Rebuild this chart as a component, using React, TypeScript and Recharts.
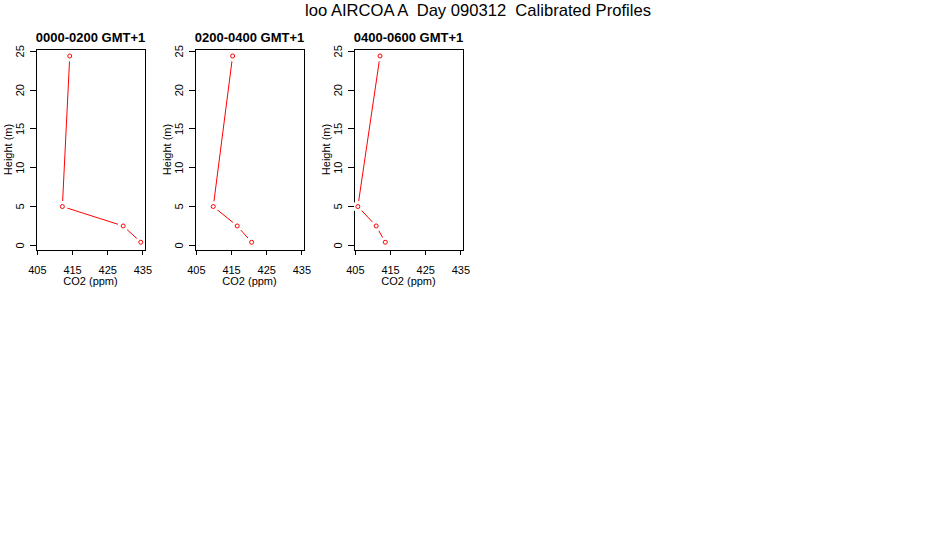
import { LineChart, Line, XAxis, YAxis, ReferenceArea } from "recharts";

const heights = [24.4, 5.0, 2.5, 0.4];
const co2Night1 = [414.2, 412.1, 429.4, 434.4];
const co2Night2 = [415.3, 409.8, 416.6, 420.7];
const co2Night3 = [412.0, 405.7, 410.9, 413.5];
const panelTitles = ["0000-0200 GMT+1", "0200-0400 GMT+1", "0400-0600 GMT+1"];
const xTicks = [405, 415, 425, 435];
const yTicks = [0, 5, 10, 15, 20, 25];

const FONT = "'Liberation Sans', Arial, sans-serif";
const X_DOMAIN = [404.6, 435.6];
const Y_DOMAIN = [-0.6, 25.3];
const panelLefts = [0, 159, 318];

function toRows(co2: number[]) {
  return co2.map((c, i) => ({ co2: c, h: heights[i] }));
}

const panels = [co2Night1, co2Night2, co2Night3].map(toRows);

function XTick(props: any) {
  const { x, y, payload } = props;
  return (
    <text x={x} y={y + 17} textAnchor="middle" fontSize={11} fontFamily={FONT} fill="#000">
      {payload.value}
    </text>
  );
}

function YTick(props: any) {
  const { x, y, payload } = props;
  const tx = x - 4;
  return (
    <text
      x={tx}
      y={y}
      textAnchor="middle"
      fontSize={11}
      fontFamily={FONT}
      fill="#000"
      transform={`rotate(-90 ${tx} ${y})`}
    >
      {payload.value}
    </text>
  );
}

// R type="b": open circle with a gap in the line around it
function GapDot(props: any) {
  const { cx, cy, index } = props;
  if (cx == null || cy == null) return null;
  return (
    <g key={`dot-${index}`}>
      <circle cx={cx} cy={cy} r={5.5} fill="#fff" stroke="none" />
      <circle cx={cx} cy={cy} r={2} fill="none" stroke="#ff0000" strokeWidth={1} />
    </g>
  );
}

function Panel({ rows }: { rows: { co2: number; h: number }[] }) {
  return (
    <LineChart width={159} height={300} data={rows} margin={{ top: 49, right: 14, bottom: 0, left: 0 }}>
      <XAxis
        type="number"
        dataKey="co2"
        domain={X_DOMAIN}
        ticks={xTicks}
        allowDataOverflow
        axisLine={false}
        tickSize={5}
        tickLine={{ stroke: "#000", shapeRendering: "crispEdges" }}
        tick={<XTick />}
        height={50}
      />
      <YAxis
        type="number"
        dataKey="h"
        domain={Y_DOMAIN}
        ticks={yTicks}
        allowDataOverflow
        axisLine={false}
        tickSize={6}
        tickLine={{ stroke: "#000", shapeRendering: "crispEdges" }}
        tick={<YTick />}
        width={36}
      />
      <Line
        type="linear"
        dataKey="h"
        stroke="#ff0000"
        strokeWidth={1}
        dot={<GapDot />}
        activeDot={false}
        isAnimationActive={false}
      />
      <ReferenceArea
        x1={X_DOMAIN[0]}
        x2={X_DOMAIN[1]}
        y1={Y_DOMAIN[0]}
        y2={Y_DOMAIN[1]}
        fill="none"
        fillOpacity={0}
        stroke="#000"
        strokeOpacity={1}
        shapeRendering="crispEdges"
      />
    </LineChart>
  );
}

export default function App() {
  return (
    <div
      style={{
        position: "absolute",
        left: 0,
        top: 0,
        width: 950,
        height: 550,
        background: "#fff",
        overflow: "hidden",
      }}
    >
      {panels.map((rows, i) => (
        <div key={i} style={{ position: "absolute", left: panelLefts[i], top: 0 }}>
          <Panel rows={rows} />
        </div>
      ))}
      <svg
        width={950}
        height={550}
        style={{ position: "absolute", left: 0, top: 0, pointerEvents: "none" }}
      >
        <text
          x={478}
          y={16}
          textAnchor="middle"
          fontSize={16.6}
          fontFamily={FONT}
          fill="#000"
          style={{ whiteSpace: "pre" }}
        >
          {"loo AIRCOA A  Day 090312  Calibrated Profiles"}
        </text>
        {panelTitles.map((t, i) => {
          const cx = panelLefts[i] + 36 + 54.5;
          const lx = panelLefts[i] + 11.5;
          return (
            <g key={t}>
              <text
                x={cx}
                y={42}
                textAnchor="middle"
                fontSize={13}
                fontWeight="bold"
                fontFamily={FONT}
                fill="#000"
              >
                {t}
              </text>
              <text x={cx} y={285} textAnchor="middle" fontSize={11} fontFamily={FONT} fill="#000">
                CO2 (ppm)
              </text>
              <text
                x={lx}
                y={149.5}
                textAnchor="middle"
                fontSize={11}
                fontFamily={FONT}
                fill="#000"
                transform={`rotate(-90 ${lx} 149.5)`}
              >
                Height (m)
              </text>
            </g>
          );
        })}
      </svg>
    </div>
  );
}
